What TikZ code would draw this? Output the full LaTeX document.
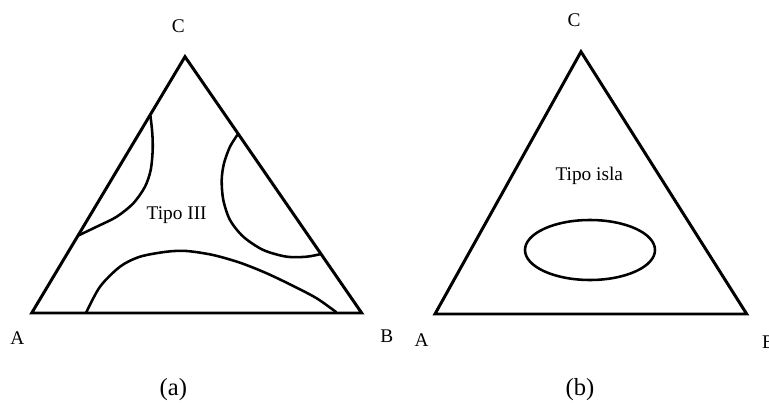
\documentclass[tikz,border=0pt]{standalone}
\usepackage{fontspec}
\setmainfont{Liberation Serif}
\usetikzlibrary{positioning}

\begin{document}
\begin{tikzpicture}[x=0.02cm, y=-0.02cm,
  tri/.style={line width=1.7pt, line join=miter},
  curve/.style={line width=1.45pt, line cap=round},
  vlabel/.style={inner sep=0pt, font=\fontsize{11}{13}\selectfont},
  caption/.style={inner sep=0pt, font=\fontsize{14}{16}\selectfont}]
% frame of the figure (pixel units, y downwards)
\clip (0,0) rectangle (769,403);

% (a) Tipo III
\coordinate (aA) at (31.7,313);
\coordinate (aB) at (361.7,313);
\coordinate (aC) at (185,56.7);
\draw[tri] (aA) -- (aB) -- (aC) -- cycle;

% two-phase regions
\draw[curve] plot[smooth] coordinates {(150.5,116) (152.3,133.3) (152.7,150) (150.7,170)
  (145,186.7) (133.3,203.3) (116.7,216.7) (96.7,226.7) (78.3,235.5)};
\draw[curve] plot[smooth] coordinates {(238,134) (230,146.7) (224,163.3) (221.7,180)
  (223.3,200) (230,220) (243.3,236.7) (263.3,250) (286.7,256.7) (306.7,256.7) (321,254)};
\draw[curve] plot[smooth] coordinates {(86,313) (100,286.7) (120,266.7) (140,256.7)
  (166.7,251.7) (186.7,251) (213,255) (240,262.7) (266.7,273.3) (293.3,286)
  (316.7,298.3) (336,312)};

\node[vlabel] (tipo3) at (176.7,215.5) {Tipo III};
\node[vlabel] (lblaC) at (178.3,26) {C};
\node[vlabel] (lblaA) at (17.3,338.3) {A};
\node[vlabel] (lblaB) at (386.7,336) {B};
\node[caption] (capa) at (173.3,390) {(a)};

% (b) Tipo isla
\coordinate (bA) at (435,314);
\coordinate (bB) at (746.7,314);
\coordinate (bC) at (581,51.7);
\draw[tri] (bA) -- (bB) -- (bC) -- cycle;

\draw[curve] (590,250) ellipse (65 and 30);

\node[vlabel] (isla) at (589.3,176) {Tipo isla};
\node[vlabel] (lblbC) at (574,20) {C};
\node[vlabel] (lblbA) at (421.7,340) {A};
\node[vlabel] (lblbB) at (768.5,341.7) {B};
\node[caption] (capb) at (580,390) {(b)};
\end{tikzpicture}
\end{document}
